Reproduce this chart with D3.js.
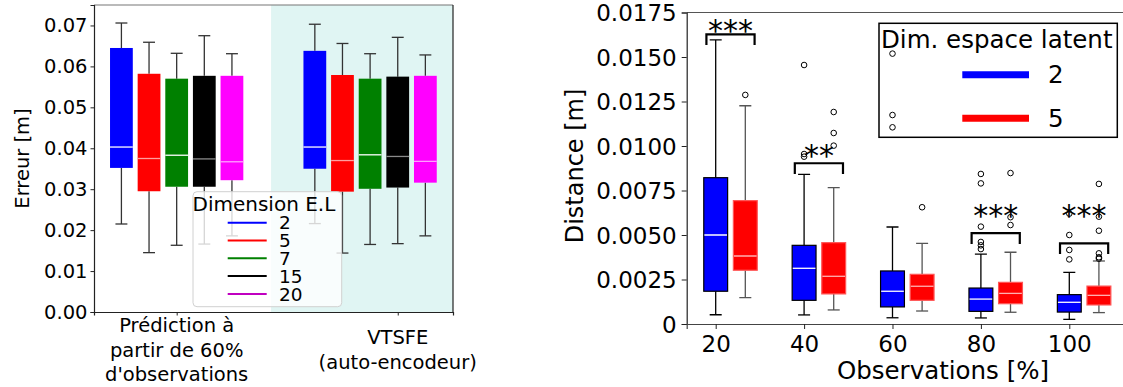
<!DOCTYPE html>
<html><head><meta charset="utf-8">
<script src="https://cdn.jsdelivr.net/npm/d3@7"></script>
<style>body{margin:0;background:#fff}svg{display:block;font-family:"DejaVu Sans",sans-serif}</style>
</head><body><svg id="c" width="1123" height="387"></svg>
<script>
// ---------- Left chart data ----------
const leftCategories = ["Prédiction à\npartir de 60%\nd'observations", "VTSFE\n(auto-encodeur)"];
const latentDims = ["2", "5", "7", "15", "20"];
const leftYTicks = [0, 0.01, 0.02, 0.03, 0.04, 0.05, 0.06, 0.07];
const predLow  = [0.0215, 0.0145, 0.0163, 0.0166, 0.0186];
const predQ1   = [0.0352, 0.0295, 0.0306, 0.0306, 0.0322];
const predMed  = [0.0403, 0.0375, 0.0383, 0.0374, 0.0367];
const predQ3   = [0.0645, 0.0582, 0.0570, 0.0577, 0.0577];
const predHigh = [0.0706, 0.0659, 0.0632, 0.0675, 0.0631];
const vtsfeLow  = [0.0216, 0.0144, 0.0165, 0.0167, 0.0186];
const vtsfeQ1   = [0.0350, 0.0294, 0.0301, 0.0304, 0.0316];
const vtsfeMed  = [0.0403, 0.0370, 0.0384, 0.0380, 0.0368];
const vtsfeQ3   = [0.0638, 0.0579, 0.0570, 0.0575, 0.0577];
const vtsfeHigh = [0.0703, 0.0656, 0.0631, 0.0671, 0.0628];

// ---------- Right chart data ----------
const obsLevels = ["20", "40", "60", "80", "100"];
const latentSizes = ["2", "5"];
const rightYTicks = [0, 0.0025, 0.005, 0.0075, 0.01, 0.0125, 0.015, 0.0175];
const rightYTickLabels = ["0", "0.0025", "0.0050", "0.0075", "0.0100", "0.0125", "0.0150", "0.0175"];
const blueLow  = [0.00052, 0.00051, 0.00035, 0.00034, 0.00026];
const blueQ1   = [0.00184, 0.00133, 0.00096, 0.00071, 0.00067];
const blueMed  = [0.00500, 0.00313, 0.00184, 0.00140, 0.00122];
const blueQ3   = [0.00822, 0.00442, 0.00298, 0.00202, 0.00165];
const blueHigh = [0.01596, 0.00841, 0.00545, 0.00393, 0.00290];
const redLow  = [0.00148, 0.00079, 0.00073, 0.00066, 0.00064];
const redQ1   = [0.00302, 0.00169, 0.00133, 0.00114, 0.00107];
const redMed  = [0.00382, 0.00268, 0.00212, 0.00172, 0.00161];
const redQ3   = [0.00693, 0.00457, 0.00279, 0.00234, 0.00213];
const redHigh = [0.01226, 0.00766, 0.00453, 0.00403, 0.00354];
const blueOutliers = [[], [0.01455, 0.00955, 0.0094], [0.01519, 0.01174, 0.01105],
  [0.00843, 0.0079, 0.00547, 0.00461, 0.00442, 0.00421], [0.0062, 0.005, 0.00416, 0.00363]];
const redOutliers = [[0.0177, 0.01287], [0.01191, 0.01073, 0.01002], [0.00656],
  [0.00848, 0.0060, 0.00556], [0.00787, 0.00603, 0.00524, 0.00397, 0.00375, 0.00367]];
const sigLabels = ["***", "**", "", "***", "***"];
const sigBracket = [0.01627, 0.00903, null, 0.0051, 0.00453];
const sigTextLevel = [0.01588, 0.00888, null, 0.00551, 0.00551];

const svg = d3.select("#c");
const FONT = "DejaVu Sans";

// =================== LEFT CHART ===================
(function () {
  const L = 94, R = 453, T = 5, B = 312;
  const x = d3.scaleLinear().domain([0.626, 2.25]).range([L, R]);
  const y = d3.scaleLinear().domain([0, 0.075]).range([B, T]);
  const colors = ["#0000ff", "#ff0000", "#008000", "#000000", "#ff00ff"];
  const legendColors = ["#0000ff", "#ff0000", "#008000", "#000000", "#c000c0"];
  const medColors = ["#ffffff", "#ff9f9f", "#ffffff", "#8a8a8a", "#ffa0ff"];
  const g = svg.append("g");

  // shaded region for second category
  g.append("rect").attr("x", x(1.427)).attr("y", T).attr("width", R - x(1.427)).attr("height", B - T)
    .attr("fill", "#e0f5f3");

  const groups = [
    {c: 1, offs: [-0.25, -0.125, 0, 0.125, 0.25], lo: predLow, q1: predQ1, md: predMed, q3: predQ3, hi: predHigh},
    {c: 2, offs: [-0.375, -0.25, -0.125, 0, 0.125], lo: vtsfeLow, q1: vtsfeQ1, md: vtsfeMed, q3: vtsfeQ3, hi: vtsfeHigh}
  ];
  const bw = 0.103, cw = 0.054;
  groups.forEach(gr => {
    latentDims.forEach((d, i) => {
      const cx = x(gr.c + gr.offs[i]);
      const w = x(bw) - x(0), capw = x(cw) - x(0);
      // whiskers
      g.append("line").attr("x1", cx).attr("x2", cx).attr("y1", y(gr.hi[i])).attr("y2", y(gr.q3[i]))
        .attr("stroke", "#333").attr("stroke-width", 1.3);
      g.append("line").attr("x1", cx).attr("x2", cx).attr("y1", y(gr.q1[i])).attr("y2", y(gr.lo[i]))
        .attr("stroke", "#333").attr("stroke-width", 1.3);
      g.append("line").attr("x1", cx - capw / 2).attr("x2", cx + capw / 2).attr("y1", y(gr.hi[i])).attr("y2", y(gr.hi[i]))
        .attr("stroke", "#333").attr("stroke-width", 1.3);
      g.append("line").attr("x1", cx - capw / 2).attr("x2", cx + capw / 2).attr("y1", y(gr.lo[i])).attr("y2", y(gr.lo[i]))
        .attr("stroke", "#333").attr("stroke-width", 1.3);
      g.append("rect").attr("x", cx - w / 2).attr("y", y(gr.q3[i])).attr("width", w)
        .attr("height", y(gr.q1[i]) - y(gr.q3[i])).attr("fill", colors[i]);
      g.append("line").attr("x1", cx - w / 2).attr("x2", cx + w / 2).attr("y1", y(gr.md[i])).attr("y2", y(gr.md[i]))
        .attr("stroke", medColors[i]).attr("stroke-width", 1.3);
    });
  });

  // spines
  g.append("line").attr("x1", L).attr("x2", R).attr("y1", T).attr("y2", T).attr("stroke", "#777").attr("stroke-width", 1.2);
  g.append("line").attr("x1", R).attr("x2", R).attr("y1", T).attr("y2", B).attr("stroke", "#222").attr("stroke-width", 1.2);
  const yAxis = d3.axisLeft(y).tickValues(leftYTicks).tickFormat(d3.format(".2f")).tickSize(3.5).tickPadding(3);
  const ya = g.append("g").attr("transform", `translate(${L},0)`).call(yAxis);
  ya.select(".domain").attr("stroke", "#222").attr("stroke-width", 1.2);
  ya.selectAll(".tick line").attr("stroke", "#222");
  ya.selectAll(".tick text").attr("font-family", FONT).attr("font-size", 19.5).attr("fill", "#000")
    .attr("dy", null).attr("dominant-baseline", "central");
  const xAxis = d3.axisBottom(x).tickValues([1, 2]).tickFormat("").tickSize(3.5);
  const xa = g.append("g").attr("transform", `translate(0,${B})`).call(xAxis);
  xa.select(".domain").attr("stroke", "#222").attr("stroke-width", 1.2);
  xa.selectAll(".tick line").attr("stroke", "#222");

  // multi-line category labels, vertically centred on the same centre
  leftCategories.forEach((lab, i) => {
    const lines = lab.split("\n");
    const t = g.append("text").attr("x", x(i + 1)).attr("text-anchor", "middle")
      .attr("font-family", FONT).attr("font-size", 19.5).attr("fill", "#000");
    lines.forEach((ln, j) => {
      t.append("tspan").attr("x", x(i + 1)).attr("y", 356.5 + (j - (lines.length - 1) / 2) * 24.5).text(ln);
    });
  });

  g.append("text").attr("transform", `translate(29,158.5) rotate(-90)`).attr("text-anchor", "middle")
    .attr("font-family", FONT).attr("font-size", 19.5).text("Erreur [m]");

  // legend
  const lg = g.append("g");
  lg.append("rect").attr("x", 193).attr("y", 191.7).attr("width", 148.7).attr("height", 115).attr("rx", 4)
    .attr("fill", "#fff").attr("fill-opacity", 0.8).attr("stroke", "#d0d0d0");
  lg.append("text").attr("x", 192.5).attr("y", 210.7).attr("font-family", FONT).attr("font-size", 20).text("Dimension E.L");
  latentDims.forEach((d, i) => {
    const yy = 222.7 + i * 17.8;
    lg.append("line").attr("x1", 227.7).attr("x2", 266.7).attr("y1", yy).attr("y2", yy)
      .attr("stroke", legendColors[i]).attr("stroke-width", 2);
    lg.append("text").attr("x", 279).attr("y", yy + 6.6).attr("font-family", FONT).attr("font-size", 18.5).text(d);
  });
})();

// =================== RIGHT CHART ===================
(function () {
  const L = 686.7, T = 12.5, B = 324;
  const x = d3.scaleLinear().domain([0.672, 6]).range([L, L + 5.328 * 88.4]);
  const y = d3.scaleLinear().domain([0, 0.0175]).range([B, T]);
  const R = x(6);
  const g = svg.append("g");
  svg.append("defs").append("clipPath").attr("id", "rclip").append("rect")
    .attr("x", L).attr("y", T).attr("width", R - L).attr("height", B - T);

  const off = 0.335, bw = 0.27, cw = 0.136;
  const series = [
    {o: 0, fill: "#0000ff", edge: "#000", wh: "#000", med: "#ffffff", lo: blueLow, q1: blueQ1, md: blueMed, q3: blueQ3, hi: blueHigh, out: blueOutliers},
    {o: off, fill: "#ff0000", edge: "#ff5555", wh: "#555", med: "#ffb0b0", lo: redLow, q1: redQ1, md: redMed, q3: redQ3, hi: redHigh, out: redOutliers}
  ];
  const pg = g.append("g").attr("clip-path", "url(#rclip)");
  series.forEach(s => {
    obsLevels.forEach((lv, i) => {
      const cx = x(i + 1 + s.o), w = x(bw) - x(0), capw = x(cw) - x(0);
      pg.append("line").attr("x1", cx).attr("x2", cx).attr("y1", y(s.hi[i])).attr("y2", y(s.q3[i])).attr("stroke", s.wh).attr("stroke-width", 1.3);
      pg.append("line").attr("x1", cx).attr("x2", cx).attr("y1", y(s.q1[i])).attr("y2", y(s.lo[i])).attr("stroke", s.wh).attr("stroke-width", 1.3);
      pg.append("line").attr("x1", cx - capw / 2).attr("x2", cx + capw / 2).attr("y1", y(s.hi[i])).attr("y2", y(s.hi[i])).attr("stroke", s.wh).attr("stroke-width", 1.3);
      pg.append("line").attr("x1", cx - capw / 2).attr("x2", cx + capw / 2).attr("y1", y(s.lo[i])).attr("y2", y(s.lo[i])).attr("stroke", s.wh).attr("stroke-width", 1.3);
      pg.append("rect").attr("x", cx - w / 2).attr("y", y(s.q3[i])).attr("width", w).attr("height", y(s.q1[i]) - y(s.q3[i]))
        .attr("fill", s.fill).attr("stroke", s.edge).attr("stroke-width", 1.2);
      pg.append("line").attr("x1", cx - w / 2 + 0.6).attr("x2", cx + w / 2 - 0.6).attr("y1", y(s.md[i])).attr("y2", y(s.md[i]))
        .attr("stroke", s.med).attr("stroke-width", 1.3);
      s.out[i].forEach(v => {
        pg.append("circle").attr("cx", cx).attr("cy", y(v)).attr("r", 2.8).attr("fill", "none").attr("stroke", "#000").attr("stroke-width", 1);
      });
    });
  });

  // significance brackets
  obsLevels.forEach((lv, i) => {
    if (!sigLabels[i]) return;
    const x1 = x(i + 1 - 0.105), x2 = x(i + 1 + 0.44), yb = y(sigBracket[i]), yl = y(sigBracket[i] - 0.0006);
    g.append("path").attr("d", `M${x1},${yl}L${x1},${yb}L${x2},${yb}L${x2},${yl}`)
      .attr("fill", "none").attr("stroke", "#000").attr("stroke-width", 2.2);
    g.append("text").attr("x", x(i + 1 + off / 2)).attr("y", y(sigTextLevel[i])).attr("text-anchor", "middle")
      .attr("font-family", FONT).attr("font-size", 30).text(sigLabels[i]);
  });

  // spines & axes
  g.append("line").attr("x1", L).attr("x2", R).attr("y1", T).attr("y2", T).attr("stroke", "#555").attr("stroke-width", 1.2);
  const yAxis = d3.axisLeft(y).tickValues(rightYTicks).tickFormat((d, i) => rightYTickLabels[i]).tickSize(5).tickPadding(5);
  const ya = g.append("g").attr("transform", `translate(${L},0)`).call(yAxis);
  ya.select(".domain").attr("stroke", "#222").attr("stroke-width", 1.2);
  ya.selectAll(".tick line").attr("stroke", "#222");
  ya.selectAll(".tick text").attr("font-family", FONT).attr("font-size", 23).attr("fill", "#000")
    .attr("dy", null).attr("dominant-baseline", "central");
  const xAxis = d3.axisBottom(x).tickValues([1, 2, 3, 4, 5]).tickFormat((d, i) => obsLevels[i]).tickSize(5).tickPadding(4);
  const xa = g.append("g").attr("transform", `translate(0,${B})`).call(xAxis);
  xa.select(".domain").attr("stroke", "#444").attr("stroke-width", 1.2);
  xa.selectAll(".tick line").attr("stroke", "#222");
  xa.selectAll(".tick text").attr("font-family", FONT).attr("font-size", 23).attr("fill", "#000")
    .attr("dy", null).attr("y", 27.7);

  g.append("text").attr("transform", `translate(583.3,166) rotate(-90)`).attr("text-anchor", "middle")
    .attr("font-family", FONT).attr("font-size", 24).text("Distance [m]");
  g.append("text").attr("x", 943).attr("y", 379).attr("text-anchor", "middle")
    .attr("font-family", FONT).attr("font-size", 24.5).text("Observations [%]");

  // legend
  const lg = g.append("g");
  lg.append("rect").attr("x", 879).attr("y", 23.3).attr("width", 238.3).attr("height", 114)
    .attr("fill", "none").attr("stroke", "#000").attr("stroke-width", 1.5);
  lg.append("text").attr("x", 881).attr("y", 48.3).attr("font-family", FONT).attr("font-size", 24.5).text("Dim. espace latent");
  const lc = ["#0000ff", "#ff0000"], ly = [74.7, 118.3];
  latentSizes.forEach((d, i) => {
    lg.append("line").attr("x1", 962.3).attr("x2", 1029).attr("y1", ly[i]).attr("y2", ly[i]).attr("stroke", lc[i]).attr("stroke-width", 7);
    lg.append("text").attr("x", 1048).attr("y", ly[i] + 8.7).attr("font-family", FONT).attr("font-size", 24.5).text(d);
  });
})();
</script></body></html>
